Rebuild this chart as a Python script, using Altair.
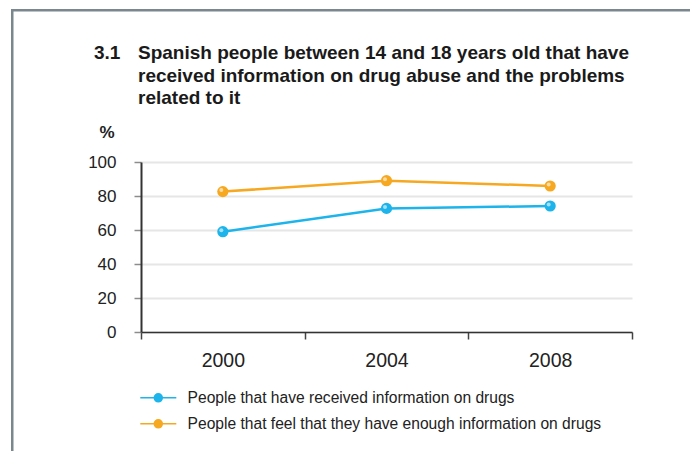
import altair as alt
import pandas as pd

# ---- data ----
years = ["2000", "2004", "2008"]
received = [59.0, 72.7, 74.1]
enough = [82.6, 89.0, 85.9]
series_names = [
    "People that have received information on drugs",
    "People that feel that they have enough information on drugs",
]
series_colors = ["#1cb4ea", "#f6a821"]
y_ticks = [0, 20, 40, 60, 80, 100]
title_lines = [
    "Spanish people between 14 and 18 years old that have",
    "received information on drug abuse and the problems",
    "related to it",
]
chapter = ["3.1"]

rows = []
for i, yr in enumerate(years):
    rows.append({"year": yr, "series": series_names[0], "value": received[i]})
    rows.append({"year": yr, "series": series_names[1], "value": enough[i]})
df = pd.DataFrame(rows)

REG = "Liberation Sans, Arial, Helvetica, sans-serif"

sym = (
    "M-3,0L3,0"
    "M-0.67,0A0.67,0.67,0,1,1,0.67,0A0.67,0.67,0,1,1,-0.67,0"
    "M-0.42,0A0.42,0.42,0,1,1,0.42,0A0.42,0.42,0,1,1,-0.42,0"
    "M-0.17,0A0.17,0.17,0,1,1,0.17,0A0.17,0.17,0,1,1,-0.17,0"
)

x_enc = alt.X(
    "year:O",
    sort=years,
    scale=alt.Scale(type="band", paddingInner=0, paddingOuter=0),
    axis=alt.Axis(
        title=None,
        labelAngle=0,
        labelFont=REG,
        labelFontSize=19.5,
        labelColor="#222222",
        labelPadding=12,
        tickBand="extent",
        tickSize=7,
        tickColor="#444444",
        tickWidth=1.5,
        domainColor="#333333",
        domainWidth=1.5,
        grid=False,
    ),
)
y_enc = alt.Y(
    "value:Q",
    scale=alt.Scale(domain=[0, 100], nice=False),
    axis=alt.Axis(
        values=y_ticks,
        title="%",
        titleAngle=0,
        titleAlign="center",
        titleBaseline="alphabetic",
        titleX=-34.5,
        titleY=-25,
        titleFont=REG,
        titleFontSize=17,
        titleFontWeight="bold",
        titleColor="#222222",
        labelFont=REG,
        labelFontSize=17,
        labelColor="#222222",
        labelPadding=18,
        tickSize=7,
        tickColor="#8c8c8c",
        tickWidth=1.5,
        domainColor="#333333",
        domainWidth=2,
        grid=True,
        gridColor="#e6e6e6",
        gridWidth=2,
    ),
)
color_enc = alt.Color(
    "series:N",
    sort=series_names,
    scale=alt.Scale(domain=series_names, range=series_colors),
    legend=alt.Legend(
        title=None,
        orient="none",
        legendX=9.5,
        legendY=228,
        direction="vertical",
        symbolType=sym,
        symbolSize=144,
        symbolStrokeWidth=1.5,
        labelFont=REG,
        labelFontSize=15.6,
        labelColor="#222222",
        labelOffset=21.5,
        rowPadding=9,
        padding=0,
        labelLimit=600,
    ),
)

base = alt.Chart(df)
lines = base.mark_line(strokeWidth=2.5).encode(x=x_enc, y=y_enc, color=color_enc)
dots = base.mark_circle(size=125, opacity=1).encode(
    x=x_enc,
    y=y_enc,
    color=alt.Color("series:N", sort=series_names,
                    scale=alt.Scale(domain=series_names, range=series_colors),
                    legend=None),
)
gloss = base.mark_circle(size=16, color="white", opacity=0.6, xOffset=-1.5, yOffset=-1.5).encode(
    x=x_enc, y=y_enc
)

chap = alt.Chart(pd.DataFrame({"t": chapter})).mark_text(
    align="left", baseline="alphabetic", font=REG, fontSize=19, fontWeight="bold", color="#1a1a1a"
).encode(x=alt.value(-47), y=alt.value(-103), text="t:N")

heading = alt.Chart(pd.DataFrame({"t": ["\n".join(title_lines)]})).mark_text(
    align="left", baseline="alphabetic", font=REG, fontSize=19, fontWeight="bold",
    color="#1a1a1a", lineBreak="\n", lineHeight=22.5,
).encode(x=alt.value(-3), y=alt.value(-103), text="t:N")

frame_df = pd.DataFrame({"a": [0]})
frame_left = alt.Chart(frame_df).mark_rule(color="#7b878e", strokeWidth=2.5).encode(
    x=alt.value(-128.75), y=alt.value(-153), y2=alt.value(320)
)
frame_top = alt.Chart(frame_df).mark_rule(color="#7b878e", strokeWidth=2.5).encode(
    x=alt.value(-130), x2=alt.value(600), y=alt.value(-151.75)
)

chart = alt.layer(lines, dots, gloss, chap, heading, frame_left, frame_top).properties(
    width=491,
    height=170,
    autosize=alt.AutoSizeParams(type="none"),
    padding={"left": 133, "top": 154, "right": 58, "bottom": 119},
).configure_view(stroke=None)

chart.save("out.html", embed_options={"renderer": "svg", "actions": False})
